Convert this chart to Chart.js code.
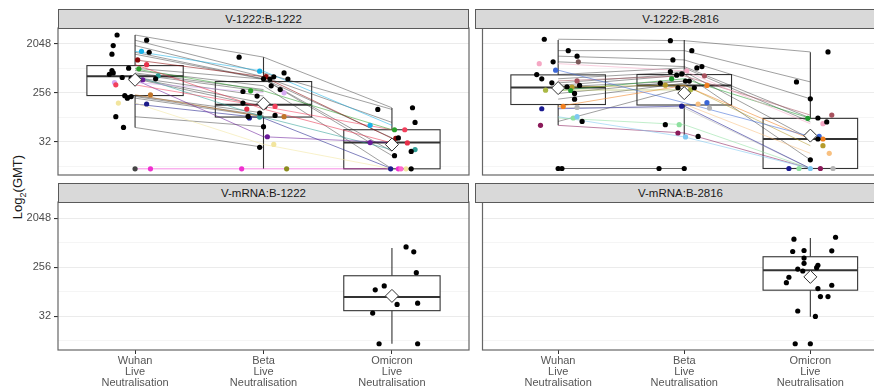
<!DOCTYPE html>
<html>
<head>
<meta charset="utf-8">
<script src="https://cdn.jsdelivr.net/npm/chart.js@4.4.1/dist/chart.umd.min.js"></script>
<style>
  body { margin: 0; width: 874px; height: 389px; overflow: hidden; background: #fff; position: relative;
         font-family: "Liberation Sans", Arial, sans-serif; }
  canvas { position: absolute; }
  .strip { position: absolute; height: 20px; box-sizing: border-box; background: #d9d9d9;
           border: 1px solid #5a5a5a; color: #1a1a1a; font-size: 11.5px; line-height: 18px; text-align: center; }
  .ytitle { position: absolute; left: -42px; top: 178px; width: 120px; height: 18px; line-height: 18px;
            transform: rotate(-90deg); text-align: center; font-size: 13px; color: #1a1a1a; }
  .ytitle sub { font-size: 9px; }
</style>
</head>
<body>
<div class="ytitle">Log<sub>2</sub>(GMT)</div>
<script>
// categories and axis ticks (log2 units)
const categories = ["Wuhan", "Beta", "Omicron"];
const catSuffix = ["Live", "Neutralisation"];
const yMajor = [5, 8, 11];
const yMinor = [3.5, 6.5, 9.5];

// ---- V-1222:B-1222 (log2 titres per subject) ----
const tlColors = ["#19B2E8","#8B0A0A","#E8304A","#2CA02C","#D6A8F2","#F2405C","#6A1B9A","#2E9E96","#C0762A","#F2E59E","#1C1C8A","#F02FD0","#8C8C1E","#454545","#FF66CC",
  "#000","#000","#000","#000","#000","#000","#000","#000","#000","#000","#000","#000","#000","#000","#000","#000","#000"];
const tlWuhan = [10.55,10.02,9.73,9.47,8.63,8.49,8.8,9.04,7.88,7.37,7.31,3.33,null,3.33,null,
  11.55,11.23,10.9,10.49,10.37,9.51,9.37,9.22,9.14,8.94,8.9,8.86,7.82,7.77,7.67,6.53,5.87];
const tlWuhanJit = [.05,.02,.09,.03,-.16,-.15,.06,.18,.12,-.13,.09,.12,0,0,0,
  -.14,.09,-.17,.11,-.18,-.05,-.18,-.17,-.2,-.1,-.03,.16,-.08,-.03,-.06,-.15,-.09];
const tlBeta = [9.33,8.99,7.0,8.12,8.0,7.16,5.3,6.51,6.53,4.83,6.45,3.33,3.33,null,null,
  10.19,9.22,8.98,8.86,8.84,8.84,8.43,8.2,8.08,7.8,7.37,7.16,6.76,6.61,6.55,5.92,4.65];
const tlBetaJit = [-.03,.02,-.13,-.1,.16,.09,.03,-.03,.16,.08,-.11,-.17,.18,0,0,
  -.19,.16,.08,0,.05,.19,.06,.13,-.16,-.05,-.16,.01,-.03,.09,-.12,0,-.03];
const tlOmicron = [6.0,5.2,4.92,5.73,null,5.73,4.94,4.51,null,3.33,3.33,3.33,null,null,3.33,
  7.08,6.98,6.18,5.23,4.4,4.14,3.33,null,null,null,null,null,null,null,null,null,null];
const tlOmicronJit = [-.17,.03,.12,.02,0,.10,-.17,.18,0,.11,-.01,.05,0,0,.07,
  .16,-.11,.18,.05,.15,.02,.15,0,0,0,0,0,0,0,0,0,0];
// [lower whisker, q1, median, q3, upper whisker]
const tlBoxes = [[5.87,7.83,9.02,9.67,11.55],[3.33,6.51,7.26,8.69,10.19],[3.33,3.33,4.94,5.73,7.06]];
const tlMeans = [8.8, 7.33, 4.82];

// ---- V-1222:B-2816 ----
const trColors = ["#F5A8C4","#3A66D6","#A8525E","#B59B2C","#AAB845","#1E9A2E","#1A1A90","#F07F1E","#B4B4B4","#8EE0A0","#7EC8F2","#8B1A5A","#7A5858","#F8C080",
  "#000","#000","#000","#000","#000","#000","#000","#000","#000","#000","#000","#000","#000","#000","#000","#000","#000"];
const trWuhan = [9.79,9.39,8.73,8.35,8.16,8.14,7.02,7.16,7.1,6.45,6.53,6.0,9.9,null,
  11.29,10.59,10.25,9.9,9.12,8.86,8.61,8.45,8.37,7.96,7.61,6.24,null,null,null,3.35,3.35];
const trWuhanJit = [-.15,-.02,.15,.11,-.10,.10,-.13,.04,.15,.12,.15,-.14,.16,0,
  -.11,.08,.15,-.04,-.17,-.13,-.05,.17,.07,.13,.13,.19,0,0,0,0,.03];
const trBeta = [9.35,7.39,9.04,8.47,8.18,8.86,7.18,8.45,7.06,6.04,5.29,5.53,null,7.31,
  11.2,10.59,10.02,9.61,9.53,9.3,9.16,9.08,8.72,8.72,8.59,8.31,8.31,6.04,5.32,3.35,3.35];
const trBetaJit = [.02,.18,.16,-.15,.05,-.10,-.02,.18,.20,-.04,.01,-.05,0,.11,
  -.11,.06,-.09,.14,.10,-.11,-.02,-.06,.01,.04,-.19,-.05,.08,-.15,.11,-.20,0];
const trOmicron = [6.1,5.32,6.63,4.75,null,6.43,3.35,5.16,3.35,3.35,3.35,3.35,null,4.28,
  10.51,8.67,7.63,6.45,6.21,5.16,3.88,null,null,null,null,null,null,null,null,null,null];
const trOmicronJit = [.10,.07,.17,.10,0,-.02,-.17,.10,.18,-.09,0,.08,0,.15,
  .14,-.11,0,.06,.13,.06,0,0,0,0,0,0,0,0,0,0,0];
const trBoxes = [[6.0,7.28,8.32,9.1,11.24],[5.37,7.25,8.45,9.12,11.24],[3.35,3.35,5.16,6.43,10.49]];
const trMeans = [8.29, 7.98, 5.37];

// ---- V-mRNA:B-1222 (Omicron only) ----
const blOmicron = [9.24,8.94,7.67,6.86,6.62,5.73,5.81,5.2,3.33,3.33];
const blOmicronJit = [.11,.17,.19,-.06,-.13,.04,.2,-.15,-.1,.2];
const blBoxes = [null, null, [3.33,5.35,6.19,7.48,9.18]];
const blMeans = [null, null, 6.25];

// ---- V-mRNA:B-2816 (Omicron only) ----
const brOmicron = [9.71,9.83,8.96,9.02,9.0,8.56,8.24,8.12,7.97,7.89,7.77,7.39,7.06,6.7,6.9,6.21,6.21,5.33,5.0,3.33,3.33];
const brOmicronJit = [-.13,.2,-.14,-.05,.17,-.05,-.05,.06,.05,-.1,-.06,-.17,-.19,.06,.17,.08,.14,-.1,.04,-.12,0];
const brBoxes = [null, null, [4.98,6.6,7.81,8.64,9.79]];
const brMeans = [null, null, 7.41];

// draws boxplots (white box, median, whiskers) through chart scales
function boxPlugin(boxes) {
  return {
    id: "boxes",
    beforeDatasetsDraw(chart) {
      const { ctx, scales: { x, y } } = chart;
      ctx.save();
      boxes.forEach((b, k) => {
        if (!b) return;
        const [lo, q1, med, q3, hi] = b;
        const xl = x.getPixelForValue(k - 0.375), xr = x.getPixelForValue(k + 0.375), xc = x.getPixelForValue(k);
        ctx.strokeStyle = "#333";
        ctx.lineWidth = 1.1;
        ctx.beginPath();
        ctx.moveTo(xc, y.getPixelForValue(q3)); ctx.lineTo(xc, y.getPixelForValue(hi));
        ctx.moveTo(xc, y.getPixelForValue(q1)); ctx.lineTo(xc, y.getPixelForValue(lo));
        ctx.stroke();
        const top = y.getPixelForValue(q3), bot = y.getPixelForValue(q1);
        ctx.fillStyle = "#fff";
        ctx.fillRect(xl, top, xr - xl, bot - top);
        ctx.strokeRect(xl, top, xr - xl, bot - top);
        ctx.lineWidth = 2;
        ctx.beginPath();
        ctx.moveTo(xl, y.getPixelForValue(med)); ctx.lineTo(xr, y.getPixelForValue(med));
        ctx.stroke();
      });
      ctx.restore();
    },
    afterDraw(chart) {
      const a = chart.chartArea, ctx = chart.ctx;
      ctx.save();
      ctx.strokeStyle = "#666";
      ctx.lineWidth = 1.2;
      ctx.strokeRect(a.left, a.top, a.right - a.left, a.bottom - a.top);
      ctx.restore();
    }
  };
}

function addStrip(text, left, top, width) {
  const d = document.createElement("div");
  d.className = "strip";
  d.textContent = text;
  d.style.left = left + "px";
  d.style.top = top + "px";
  d.style.width = width + "px";
  document.body.appendChild(d);
}

function makePanel(p) {
  const canvas = document.createElement("canvas");
  canvas.width = p.w;
  canvas.height = p.h;
  canvas.style.left = p.left + "px";
  canvas.style.top = p.top + "px";
  document.body.appendChild(canvas);

  const datasets = [];
  // subject lines
  p.colors.forEach((c, i) => {
    const pts = p.values.map((vals, k) => ({ x: k, y: vals[i] == null ? null : vals[i] }));
    if (pts.filter(d => d.y != null).length < 2) return;
    datasets.push({
      data: pts,
      showLine: true,
      spanGaps: false,
      borderColor: c === "#000" ? "rgba(45,45,45,0.45)" : c + "8C",
      borderWidth: 1,
      pointRadius: 0,
      clip: false,
      order: 3
    });
  });
  // jittered points
  const pts = [], cols = [];
  p.values.forEach((vals, k) => {
    vals.forEach((v, i) => {
      if (v == null) return;
      pts.push({ x: k + p.jitter[k][i], y: v });
      cols.push(p.colors[i]);
    });
  });
  datasets.push({
    data: pts,
    pointBackgroundColor: cols,
    pointBorderWidth: 0,
    pointRadius: 2.6,
    clip: false,
    order: 2
  });
  // means
  datasets.push({
    data: p.means.map((m, k) => ({ x: k, y: m })).filter(d => d.y != null),
    pointStyle: "rectRot",
    pointRadius: 6.5,
    pointBackgroundColor: "#fff",
    pointBorderColor: "#333",
    pointBorderWidth: 1,
    clip: false,
    order: 1
  });

  new Chart(canvas, {
    type: "scatter",
    data: { datasets },
    options: {
      responsive: false,
      animation: false,
      devicePixelRatio: 1,
      events: [],
      layout: { padding: { top: 10, bottom: p.showX ? 0 : 10, left: 0, right: 10 } },
      plugins: { legend: { display: false }, tooltip: { enabled: false } },
      scales: {
        x: {
          type: "linear",
          min: -0.6,
          max: 2.6,
          display: p.showX,
          afterBuildTicks: s => { s.ticks = categories.map((c, k) => ({ value: k })); },
          afterFit: s => { if (p.showX) s.height = 39; },
          border: { display: false },
          grid: { drawOnChartArea: false, drawTicks: true, tickLength: 4, tickColor: "#333" },
          ticks: {
            padding: 2,
            color: "#555",
            font: { family: "Liberation Sans", size: 11, lineHeight: 0.98 },
            callback: v => [categories[v]].concat(catSuffix)
          }
        },
        y: {
          type: "linear",
          min: 2.95,
          max: 11.98,
          afterBuildTicks: s => { s.ticks = yMinor.concat(yMajor).sort((a, b) => a - b).map(v => ({ value: v })); },
          afterFit: s => { s.width = p.showY ? 58 : 0; },
          border: { display: false },
          grid: {
            color: c => yMajor.includes(c.tick.value) ? "#ebebeb" : "#f3f3f3",
            lineWidth: c => yMajor.includes(c.tick.value) ? 1.1 : 0.8,
            drawTicks: p.showY,
            tickLength: 4,
            tickColor: c => yMajor.includes(c.tick.value) ? "#333" : "rgba(0,0,0,0)"
          },
          ticks: {
            display: p.showY,
            padding: 3,
            color: "#4d4d4d",
            font: { family: "Liberation Sans", size: 11 },
            callback: v => yMajor.includes(v) ? String(Math.pow(2, v)) : ""
          }
        }
      }
    },
    plugins: [boxPlugin(p.boxes)]
  });
}

makePanel({ left: 0, top: 18, w: 479, h: 167, showY: true, showX: false, colors: tlColors,
  values: [tlWuhan, tlBeta, tlOmicron], jitter: [tlWuhanJit, tlBetaJit, tlOmicronJit], boxes: tlBoxes, means: tlMeans });
makePanel({ left: 475, top: 18, w: 421, h: 167, showY: false, showX: false, colors: trColors,
  values: [trWuhan, trBeta, trOmicron], jitter: [trWuhanJit, trBetaJit, trOmicronJit], boxes: trBoxes, means: trMeans });
makePanel({ left: 0, top: 192, w: 479, h: 197, showY: true, showX: true, colors: blOmicron.map(() => "#000"),
  values: [[], [], blOmicron], jitter: [[], [], blOmicronJit], boxes: blBoxes, means: blMeans });
makePanel({ left: 475, top: 192, w: 421, h: 197, showY: false, showX: true, colors: brOmicron.map(() => "#000"),
  values: [[], [], brOmicron], jitter: [[], [], brOmicronJit], boxes: brBoxes, means: brMeans });

addStrip("V-1222:B-1222", 58, 9, 411);
addStrip("V-1222:B-2816", 475, 9, 411);
addStrip("V-mRNA:B-1222", 58, 183, 411);
addStrip("V-mRNA:B-2816", 475, 183, 411);
</script>
</body>
</html>
